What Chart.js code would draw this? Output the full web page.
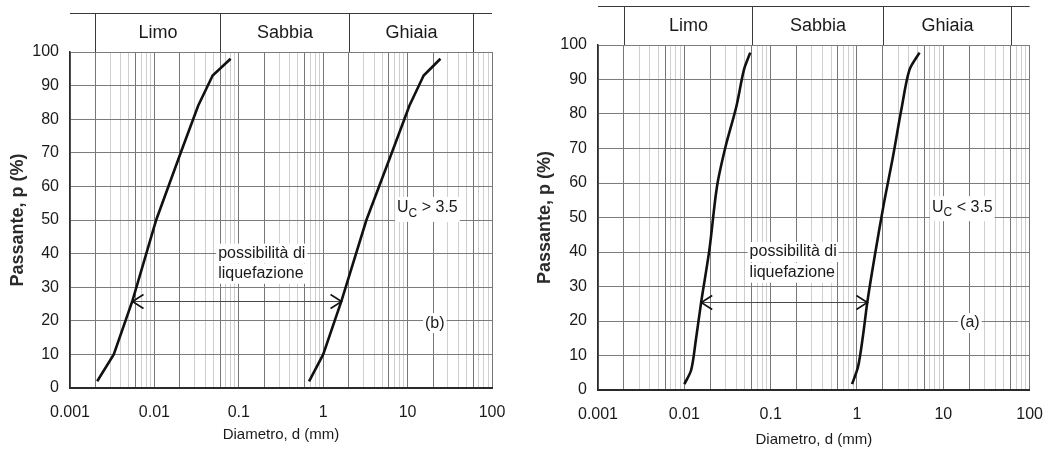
<!DOCTYPE html>
<html>
<head>
<meta charset="utf-8">
<title>Curve granulometriche - possibilità di liquefazione</title>
<script src="https://cdn.jsdelivr.net/npm/chart.js@4.4.1/dist/chart.umd.min.js"></script>
<style>
  html, body { margin: 0; padding: 0; background: #fff; }
  .wrap { position: relative; width: 1058px; height: 453px; overflow: hidden; }
  canvas { position: absolute; top: 0; }
  #chartB { left: 0; }
  #chartA { left: 529px; }
</style>
</head>
<body>
<div class="wrap">
  <canvas id="chartB" width="529" height="453"></canvas>
  <canvas id="chartA" width="529" height="453"></canvas>
</div>
<script>
const FONT = "'Liberation Sans', Arial, Helvetica, sans-serif";

// axes
const DIAM_TICKS = [0.001, 0.01, 0.1, 1, 10, 100];
const DIAM_LABELS = ['0.001', '0.01', '0.1', '1', '10', '100'];
const PASS_TICKS = [0, 10, 20, 30, 40, 50, 60, 70, 80, 90, 100];

// soil fractions shown in the header strip (limits in mm)
const FRACTIONS = ['Limo', 'Sabbia', 'Ghiaia'];
const FRACTION_LIMITS = [0.002, 0.06, 2, 60];

// (b) well graded soils, Uc > 3.5
const diamB1 = [0.0021, 0.0033, 0.0055, 0.0105, 0.0205, 0.033, 0.049, 0.08];
const passB1 = [2, 10, 26, 50, 70, 84, 93, 98];
const diamB2 = [0.68, 1.0, 1.65, 3.25, 6.5, 10.5, 15.5, 24.5];
const passB2 = [2, 10, 26, 50, 70, 84, 93, 98];
const liqRangeB = [0.0055, 1.65];
const liqLevelB = 26;

// (a) uniform soils, Uc < 3.5
const diamA1 = [0.0100, 0.012, 0.0136, 0.0157, 0.0195, 0.0239, 0.030, 0.040, 0.049, 0.058];
const passA1 = [1.7, 5.8, 14.5, 25.6, 40.6, 59, 70.5, 82.1, 92.8, 97.8];
const diamA2 = [0.877, 1.03, 1.17, 1.32, 1.60, 2.05, 2.61, 3.26, 4.05, 5.3];
const passA2 = [1.7, 6.8, 15.5, 25.6, 38.6, 54.1, 67.6, 81.2, 92.8, 97.8];
const liqRangeA = [0.0157, 1.32];
const liqLevelA = 25.6;

// every 1..9 x 10^n line between min and max
function logGridValues(min, max) {
  const out = [];
  for (let e = Math.log10(min); e < Math.log10(max); e++) {
    for (let m = 1; m < 10; m++) out.push(Number((m * Math.pow(10, e)).toPrecision(2)));
  }
  out.push(max);
  return out;
}
const GRID_VALUES = logGridValues(DIAM_TICKS[0], DIAM_TICKS[DIAM_TICKS.length - 1]);

// decades and the 2 / 6 sub-limits are drawn darker
function isMainLine(v) {
  const m = Math.round(v / Math.pow(10, Math.floor(Math.log10(v) + 1e-9)));
  return m === 1 || m === 2 || m === 6;
}

function line(ctx, x1, y1, x2, y2) {
  ctx.beginPath();
  ctx.moveTo(x1, y1);
  ctx.lineTo(x2, y2);
  ctx.stroke();
}

function boxedText(ctx, text, x, y, align) {
  ctx.textAlign = align;
  ctx.textBaseline = 'middle';
  const w = ctx.measureText(text).width;
  const left = align === 'left' ? x : x - w / 2;
  ctx.fillStyle = '#fff';
  ctx.fillRect(left - 2, y - 10, w + 4, 20);
  ctx.fillStyle = '#1a1a1a';
  ctx.fillText(text, x, y);
}

function drawDecor(chart, cfg) {
  const ctx = chart.ctx;
  const xs = chart.scales.x;
  const ys = chart.scales.y;
  const area = chart.chartArea;
  const px = d => Math.round(xs.getPixelForValue(d)) + 0.5;
  ctx.save();

  // header strip with the fraction names
  ctx.strokeStyle = '#3a3a3a';
  ctx.lineWidth = 1;
  const top = cfg.headerTop + 0.5;
  line(ctx, area.left, top, area.right, top);
  FRACTION_LIMITS.forEach(d => line(ctx, px(d), top, px(d), area.top));
  ctx.font = '18px ' + FONT;
  ctx.fillStyle = '#1a1a1a';
  ctx.textAlign = 'center';
  ctx.textBaseline = 'middle';
  FRACTIONS.forEach((name, i) => {
    const cx = (px(FRACTION_LIMITS[i]) + px(FRACTION_LIMITS[i + 1])) / 2;
    ctx.fillText(name, cx, (cfg.headerTop + area.top) / 2 + 1);
  });

  // liquefaction range arrow
  const y = Math.round(ys.getPixelForValue(cfg.liqLevel)) + 0.5;
  const x1 = xs.getPixelForValue(cfg.liqRange[0]);
  const x2 = xs.getPixelForValue(cfg.liqRange[1]);
  ctx.strokeStyle = '#4a4a4a';
  ctx.lineWidth = 1;
  line(ctx, x1, y, x2, y);
  ctx.strokeStyle = '#111';
  ctx.lineWidth = 1.6;
  ctx.beginPath();
  ctx.moveTo(x1 + 11, y - 7); ctx.lineTo(x1, y); ctx.lineTo(x1 + 11, y + 7);
  ctx.moveTo(x2 - 11, y - 7); ctx.lineTo(x2, y); ctx.lineTo(x2 - 11, y + 7);
  ctx.stroke();

  // labels
  ctx.font = '16px ' + FONT;
  cfg.notes.forEach(n => {
    boxedText(ctx, n.text, xs.getPixelForValue(n.d), ys.getPixelForValue(n.p), n.align);
  });

  // U_C with subscript
  const ux = xs.getPixelForValue(cfg.uc.d);
  const uy = ys.getPixelForValue(cfg.uc.p);
  ctx.font = '16px ' + FONT;
  const wU = ctx.measureText('U').width;
  const rest = ' ' + cfg.uc.sign + ' 3.5';
  const wR = ctx.measureText(rest).width;
  ctx.font = '12px ' + FONT;
  const wC = ctx.measureText('C').width;
  ctx.fillStyle = '#fff';
  ctx.fillRect(ux - 2, uy - 11, wU + wC + wR + 4, 25);
  ctx.fillStyle = '#1a1a1a';
  ctx.textAlign = 'left';
  ctx.textBaseline = 'middle';
  ctx.font = '16px ' + FONT;
  ctx.fillText('U', ux, uy);
  ctx.font = '12px ' + FONT;
  ctx.fillText('C', ux + wU, uy + 6);
  ctx.font = '16px ' + FONT;
  ctx.fillText(rest, ux + wU + wC, uy);

  ctx.restore();
}

function makePanel(id, cfg) {
  const datasets = cfg.curves.map(c => ({
    data: c.diam.map((d, i) => ({ x: d, y: c.pass[i] })),
    borderColor: '#111',
    borderWidth: 2.6,
    pointRadius: 0,
    tension: cfg.tension,
    fill: false
  }));

  return new Chart(document.getElementById(id), {
    type: 'line',
    data: { datasets },
    options: {
      responsive: false,
      animation: false,
      events: [],
      layout: { padding: { top: cfg.top, right: cfg.right, left: 0, bottom: 0 } },
      plugins: { legend: { display: false }, tooltip: { enabled: false } },
      scales: {
        x: {
          type: 'logarithmic',
          min: DIAM_TICKS[0],
          max: DIAM_TICKS[DIAM_TICKS.length - 1],
          afterBuildTicks: s => { s.ticks = GRID_VALUES.map(v => ({ value: v })); },
          afterFit: s => { s.height = cfg.xHeight; },
          ticks: {
            autoSkip: false,
            maxRotation: 0,
            padding: 15,
            color: '#1a1a1a',
            font: { size: 16, family: FONT },
            callback: v => {
              const i = DIAM_TICKS.indexOf(v);
              return i >= 0 ? DIAM_LABELS[i] : '';
            }
          },
          grid: {
            drawTicks: false,
            lineWidth: 1,
            color: c => (c.tick && isMainLine(c.tick.value)) ? '#767676' : '#cfcfcf'
          },
          border: { color: '#2a2a2a', width: 2 },
          title: {
            display: true,
            text: 'Diametro, d (mm)',
            color: '#1a1a1a',
            font: { size: 15, family: FONT },
            padding: { top: 0, bottom: cfg.xTitlePad }
          }
        },
        y: {
          min: 0,
          max: 100,
          afterBuildTicks: s => { s.ticks = PASS_TICKS.map(v => ({ value: v })); },
          afterFit: s => { s.width = cfg.yWidth; },
          ticks: {
            padding: 11,
            color: '#1a1a1a',
            font: { size: 16, family: FONT }
          },
          grid: { drawTicks: false, lineWidth: 1, color: '#7c7c7c' },
          border: { color: '#2a2a2a', width: 1.5 },
          title: {
            display: true,
            text: 'Passante, p (%)',
            color: '#2a2a2a',
            font: { size: 18, weight: 'bold', family: FONT },
            padding: { top: cfg.yTitlePad, bottom: 0 }
          }
        }
      }
    },
    plugins: [{ id: 'sieveDecor', afterDatasetsDraw: chart => drawDecor(chart, cfg) }]
  });
}

makePanel('chartB', {
  top: 52, right: 37, xHeight: 65, yWidth: 70, xTitlePad: 9, yTitlePad: 7,
  headerTop: 13,
  tension: 0,
  curves: [{ diam: diamB1, pass: passB1 }, { diam: diamB2, pass: passB2 }],
  liqRange: liqRangeB, liqLevel: liqLevelB,
  notes: [
    { text: 'possibilità di', d: 0.057, p: 40, align: 'left' },
    { text: 'liquefazione', d: 0.057, p: 34, align: 'left' },
    { text: '(b)', d: 21, p: 19.3, align: 'center' }
  ],
  uc: { d: 7.5, p: 53.6, sign: '>' }
});

makePanel('chartA', {
  top: 45, right: 27, xHeight: 63, yWidth: 69, xTitlePad: 4, yTitlePad: 5,
  headerTop: 6,
  tension: 0.3,
  curves: [{ diam: diamA1, pass: passA1 }, { diam: diamA2, pass: passA2 }],
  liqRange: liqRangeA, liqLevel: liqLevelA,
  notes: [
    { text: 'possibilità di', d: 0.057, p: 40, align: 'left' },
    { text: 'liquefazione', d: 0.057, p: 34, align: 'left' },
    { text: '(a)', d: 20.3, p: 19.4, align: 'center' }
  ],
  uc: { d: 7.4, p: 53, sign: '<' }
});
</script>
</body>
</html>
